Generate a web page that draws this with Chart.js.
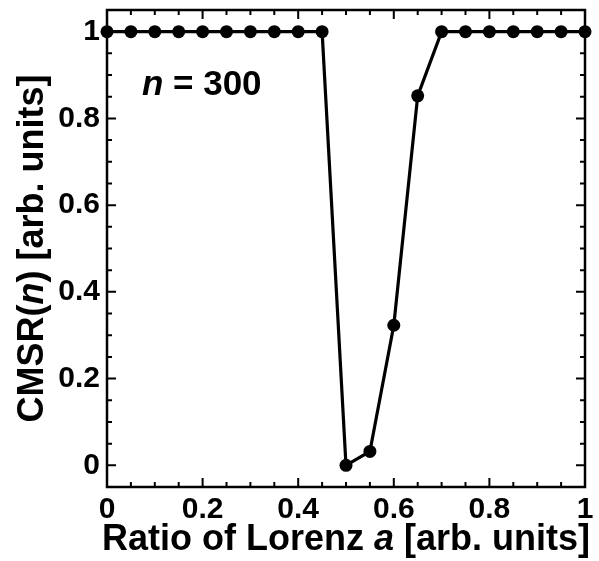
<!DOCTYPE html>
<html>
<head>
<meta charset="utf-8">
<script src="https://cdn.jsdelivr.net/npm/chart.js@4.4.1/dist/chart.umd.min.js"></script>
<style>
  html, body { margin: 0; padding: 0; background: #fff; }
</style>
</head>
<body>
<canvas id="chart" width="599" height="561"></canvas>
<script>
// data
const ratioA = [0, 0.05, 0.1, 0.15, 0.2, 0.25, 0.3, 0.35, 0.4, 0.45, 0.5,
                0.55, 0.6, 0.65, 0.7, 0.75, 0.8, 0.85, 0.9, 0.95, 1];
const cmsr = [1, 1, 1, 1, 1, 1, 1, 1, 1, 1, 0,
              0.032, 0.323, 0.852, 1, 1, 1, 1, 1, 1, 1];

// axis ticks
const xMajor = [0, 0.2, 0.4, 0.6, 0.8, 1];
const xTickLabels = ['0', '0.2', '0.4', '0.6', '0.8', '1'];
const xMinor = ratioA;
const yMajor = [0, 0.2, 0.4, 0.6, 0.8, 1];
const yTickLabels = ['0', '0.2', '0.4', '0.6', '0.8', '1'];
const yMinor = [-0.05, 0, 0.05, 0.1, 0.15, 0.2, 0.25, 0.3, 0.35, 0.4, 0.45, 0.5,
                0.55, 0.6, 0.65, 0.7, 0.75, 0.8, 0.85, 0.9, 0.95, 1, 1.05];

const annotation = { n: '300', x: 0.073, y: 0.854 };

const FONT = '"Liberation Sans", Arial, sans-serif';

// inward ticks on all four sides + frame
const frameTicks = {
  id: 'frameTicks',
  beforeDatasetsDraw(chart) {
    const { ctx, chartArea: a, scales: { x, y } } = chart;
    ctx.save();
    ctx.strokeStyle = '#000';
    ctx.lineWidth = 2;
    ctx.beginPath();
    xMinor.forEach(v => {
      const px = x.getPixelForValue(v);
      const len = xMajor.includes(v) ? 9 : 5;
      ctx.moveTo(px, a.bottom); ctx.lineTo(px, a.bottom - len);
      ctx.moveTo(px, a.top); ctx.lineTo(px, a.top + len);
    });
    yMinor.forEach(v => {
      const py = y.getPixelForValue(v);
      if (py < a.top + 1 || py > a.bottom - 1) return;
      const len = yMajor.includes(v) ? 9 : 5;
      ctx.moveTo(a.left, py); ctx.lineTo(a.left + len, py);
      ctx.moveTo(a.right, py); ctx.lineTo(a.right - len, py);
    });
    ctx.stroke();
    ctx.lineWidth = 2.5;
    ctx.strokeRect(a.left, a.top, a.right - a.left, a.bottom - a.top);
    ctx.restore();
  },
  afterDraw(chart) {
    const { ctx, chartArea: a, scales: { x, y } } = chart;
    ctx.save();
    ctx.fillStyle = '#000';
    ctx.textBaseline = 'alphabetic';

    // draws a list of [text, italic] pieces centred at (cx, baseline)
    const rich = (parts, size, cx, base) => {
      const fonts = parts.map(p => (p[1] ? 'italic ' : '') + 'bold ' + size + 'px ' + FONT);
      let w = 0;
      parts.forEach((p, i) => { ctx.font = fonts[i]; w += ctx.measureText(p[0]).width; });
      let cur = cx - w / 2;
      parts.forEach((p, i) => {
        ctx.font = fonts[i];
        ctx.textAlign = 'left';
        ctx.fillText(p[0], cur, base);
        cur += ctx.measureText(p[0]).width;
      });
    };

    // x title
    rich([['Ratio of Lorenz ', false], ['a', true], [' [arb. units]', false]],
         36, (a.left + a.right) / 2, 550);

    // y title (rotated)
    ctx.save();
    ctx.translate(43, (a.top + a.bottom) / 2);
    ctx.rotate(-Math.PI / 2);
    rich([['CMSR(', false], ['n', true], [') [arb. units]', false]], 36, 0, 0);
    ctx.restore();

    // n = 300 label
    const lx = x.getPixelForValue(annotation.x);
    const ly = y.getPixelForValue(annotation.y);
    ctx.textAlign = 'left';
    ctx.font = 'italic bold 35px ' + FONT;
    ctx.fillText('n', lx, ly);
    const nw = ctx.measureText('n').width;
    ctx.font = 'bold 35px ' + FONT;
    ctx.fillText(' = ' + annotation.n, lx + nw, ly);
    ctx.restore();
  }
};

new Chart(document.getElementById('chart'), {
  type: 'line',
  data: {
    datasets: [{
      data: ratioA.map((v, i) => ({ x: v, y: cmsr[i] })),
      borderColor: '#000',
      backgroundColor: '#000',
      borderWidth: 3.2,
      pointRadius: 6.5,
      pointBackgroundColor: '#000',
      pointBorderWidth: 0,
      tension: 0,
      clip: false
    }]
  },
  options: {
    responsive: false,
    animation: false,
    devicePixelRatio: 1,
    layout: { padding: { top: 10, right: 14, left: 0, bottom: 0 } },
    plugins: { legend: { display: false }, tooltip: { enabled: false } },
    scales: {
      x: {
        type: 'linear',
        min: 0,
        max: 1,
        grid: { display: false, drawTicks: false },
        border: { display: false },
        afterBuildTicks: s => { s.ticks = xMajor.map(v => ({ value: v })); },
        afterFit: s => { s.height = 74; s.paddingLeft = 0; s.paddingRight = 0; },
        ticks: {
          autoSkip: false,
          maxRotation: 0,
          padding: 5,
          color: '#000',
          font: { family: FONT, size: 30, weight: 'bold' },
          callback: (v, i) => xTickLabels[i]
        }
      },
      y: {
        type: 'linear',
        min: -0.05,
        max: 1.05,
        grid: { display: false, drawTicks: false },
        border: { display: false },
        afterBuildTicks: s => { s.ticks = yMajor.map(v => ({ value: v })); },
        afterFit: s => { s.width = 107; s.paddingTop = 0; s.paddingBottom = 0; },
        ticks: {
          autoSkip: false,
          padding: 7,
          color: '#000',
          font: { family: FONT, size: 30, weight: 'bold' },
          callback: (v, i) => yTickLabels[i]
        }
      }
    }
  },
  plugins: [frameTicks]
});
</script>
</body>
</html>
